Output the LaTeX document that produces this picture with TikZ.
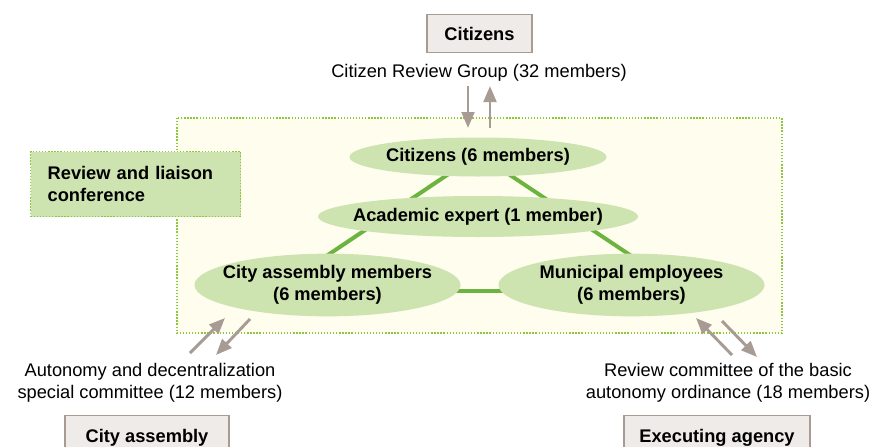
\documentclass[tikz,border=0pt]{standalone}
\usepackage{fontspec}
\setmainfont{Liberation Sans}
\usetikzlibrary{shapes.geometric,arrows.meta,calc}
\definecolor{leaf}{HTML}{CDE3B0}
\definecolor{grass}{HTML}{6DB33F}
\definecolor{rim}{HTML}{8DC63F}
\definecolor{cream}{HTML}{FFFDEE}
\definecolor{taupe}{HTML}{A89B94}
\definecolor{stone}{HTML}{EFEBE8}
\pgfdeclarelayer{bg}
\pgfdeclarelayer{back}
\pgfsetlayers{bg,back,main}

\begin{document}
\begin{tikzpicture}[x=0.75pt,y=-0.75pt,
  member/.style={ellipse,fill=leaf,inner sep=-40pt,align=center,font=\fontsize{13.7}{16.5}\selectfont\bfseries},
  link/.style={draw=grass,line width=3pt},
  flow/.style={draw=taupe,line width=2.2pt,-{Triangle[length=12pt,width=9.5pt]}},
  body/.style={draw=taupe,fill=stone,line width=0.9pt,anchor=north,font=\fontsize{13.7}{16.5}\selectfont\bfseries},
  group/.style={align=center,font=\fontsize{13.7}{16.5}\selectfont},
  dots/.style={draw=rim,line width=1pt,dash pattern=on 1pt off 1.3pt}
]
\clip (0,0) rectangle (874,446);

% conference area
\begin{pgfonlayer}{bg}
\fill[white] (0,0) rectangle (874,446);
\draw[dots,fill=cream] (177,118) rectangle (782,333);
\end{pgfonlayer}

\node[dots,fill=leaf,anchor=north west,minimum width=157.5pt,minimum height=48.75pt,
  text width=132pt,inner xsep=12.75pt,align=left,font=\fontsize{13.7}{16.5}\selectfont\bfseries]
  (rlc) at (30,151) {Review and liaison\\conference};

% members
\node[member,minimum width=192.75pt,minimum height=29.25pt] (cit) at (478,157) {Citizens (6 members)};
\node[member,minimum width=240pt,minimum height=30.75pt] (acad) at (478,216.5) {Academic expert (1 member)};
\node[member,minimum width=199.5pt,minimum height=47pt] (city) at (327.5,285) {City assembly members\\(6 members)};
\node[member,minimum width=199.5pt,minimum height=47pt] (muni) at (631.5,285) {Municipal employees\\(6 members)};

\begin{pgfonlayer}{back}
\draw[link] ($(cit)+(-16,8)$) -- ($(city)+(-14.5,-20)$);
\draw[link] ($(cit)+(17,8)$) -- ($(muni)+(13.5,-20)$);
\draw[link] ($(city)+(110,6)$) -- ($(muni)+(-110,6)$);
\end{pgfonlayer}

% outside bodies
\node[body,minimum width=78.75pt,minimum height=28.5pt] (citz) at (479.5,14) {Citizens};
\node[group] (crg) at (479,73) {Citizen Review Group (32 members)};
\node[body,minimum width=123pt,minimum height=33.75pt] (asm) at (147,415) {City assembly};
\node[group] (adc) at (150,383) {Autonomy and decentralization\\special committee (12 members)};
\node[body,minimum width=139.5pt,minimum height=33.75pt] (exe) at (717,415) {Executing agency};
\node[group] (rcb) at (728,383) {Review committee of the basic\\autonomy ordinance (18 members)};

% exchanges
\coordinate (t1) at (468,86);  \coordinate (t2) at (468,128);
\coordinate (t3) at (490,128); \coordinate (t4) at (490,86);
\coordinate (l1) at (190,353); \coordinate (l2) at (225,318);
\coordinate (l3) at (250,319); \coordinate (l4) at (216,355);
\coordinate (r1) at (732,355); \coordinate (r2) at (696,318);
\coordinate (r3) at (722,321); \coordinate (r4) at (757,357);
\draw[flow] (t1) -- (t2);
\draw[flow] (t3) -- (t4);
\draw[flow] (l1) -- (l2);
\draw[flow] (l3) -- (l4);
\draw[flow] (r1) -- (r2);
\draw[flow] (r3) -- (r4);
\end{tikzpicture}
\end{document}
